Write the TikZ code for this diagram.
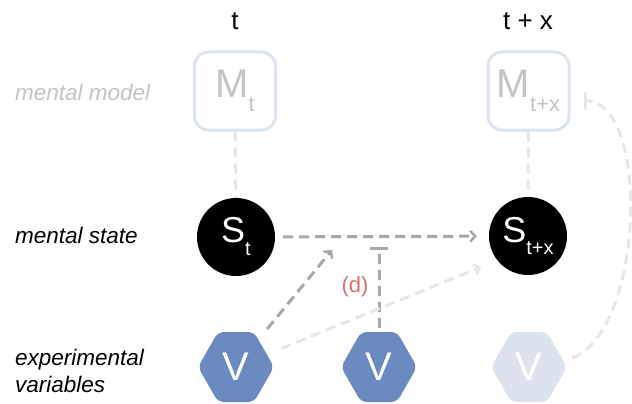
\documentclass[tikz,border=0pt]{standalone}
\usepackage{fontspec}
\setmainfont{Liberation Sans}
\usetikzlibrary{arrows.meta,calc,backgrounds}
\definecolor{dgray}{HTML}{A8A8A8}
\definecolor{lgray}{HTML}{E6E6E6}
\definecolor{mborder}{HTML}{DCE4F0}
\definecolor{mtext}{HTML}{C4C4C4}
\definecolor{vdark}{HTML}{6B8AC0}
\definecolor{vlight}{HTML}{DCE3EF}
\definecolor{dred}{HTML}{D8706C}
\newcommand{\fs}[1]{\fontsize{#1}{#1}\selectfont}
\newcommand{\hexfill}[2]{%
  \fill[#2, rounded corners=6pt] ($(#1)+(-38,0)$) -- ($(#1)+(-18,-35)$) -- ($(#1)+(18,-35)$) -- ($(#1)+(38,0)$) -- ($(#1)+(18,35)$) -- ($(#1)+(-18,35)$) -- cycle;}
\tikzset{
  mbox/.style={draw=mborder, line width=3pt, rounded corners=14pt, minimum width=81pt, minimum height=78pt, inner sep=0pt, text=mtext},
  snode/.style={circle, fill=black, minimum size=78pt, inner sep=0pt, text=white},
  vnode/.style={circle, minimum size=98pt, inner sep=0pt, text=white, font=\fs{40}},
  rowlabel/.style={anchor=base west, inner sep=0pt, font=\fs{22.5}\itshape},
  toplabel/.style={anchor=base, inner sep=0pt, font=\fs{26}},
  dk/.style={draw=dgray, line width=3pt, dash pattern=on 10pt off 6pt},
  lt/.style={draw=lgray, line width=3pt, dash pattern=on 10pt off 6pt},
  tip/.style={-{Straight Barb[length=5pt,width=11pt,line width=2.5pt]}},
  bartip/.style={-{Bar[width=18pt,line width=3pt]}}
}
\begin{document}
\begin{tikzpicture}[x=1pt,y=-1pt]
\useasboundingbox (0,0) rectangle (632,404);
% labels
\node[toplabel] (tl1) at (235,30) {t};
\node[toplabel] (tl2) at (528,30) {t + x};
\node[rowlabel, text=mtext] (lmm) at (15,100) {mental model};
\node[rowlabel] (lms) at (15,243) {mental state};
\node[rowlabel] (lev1) at (15,365) {experimental};
\node[rowlabel] (lev2) at (15,392) {variables};
% mental model boxes
\node[mbox] (mt) at (235,91) {\fs{40}M\raisebox{-14pt}{\fs{22}t}};
\node[mbox] (mtx) at (528.5,91) {\fs{40}M\raisebox{-14pt}{\fs{22}t+x}};
% mental states
\node[snode] (st) at (236,237) {\fs{36}S\raisebox{-13pt}{\fs{20}t}};
\node[snode] (stx) at (528,236) {\fs{36}S\raisebox{-12pt}{\fs{20}t+x}};
% variables
\node[vnode] (v1) at (236,367) {V};
\node[vnode] (v2) at (379,367) {V};
\node[vnode] (v3) at (529,367) {V};
\begin{scope}[on background layer]
\hexfill{v1}{vdark}
\hexfill{v2}{vdark}
\hexfill{v3}{vlight}
\end{scope}
% coordinates
\coordinate (j1) at (332,250);
\coordinate (j2) at (379,247);
\coordinate (j3) at (481,267);
% connectors
\draw[lt] (mt) -- (st);
\draw[lt] (mtx) -- (stx);
\draw[dk, tip, shorten <=8pt, shorten >=12pt] (st) -- (stx);
\draw[dk, tip] (v1) -- (j1);
\draw[dk, bartip, shorten <=-10pt] (v2.north) -- (j2);
\draw[lt, tip] (v1) -- (j3);
\draw[lt, bartip] (v3.east) ++(-6,-9) .. controls (645,330) and (650,101) .. (584,101);
\node[text=dred, font=\fs{22}] (d) at (355,287) {(d)};
\end{tikzpicture}
\end{document}
